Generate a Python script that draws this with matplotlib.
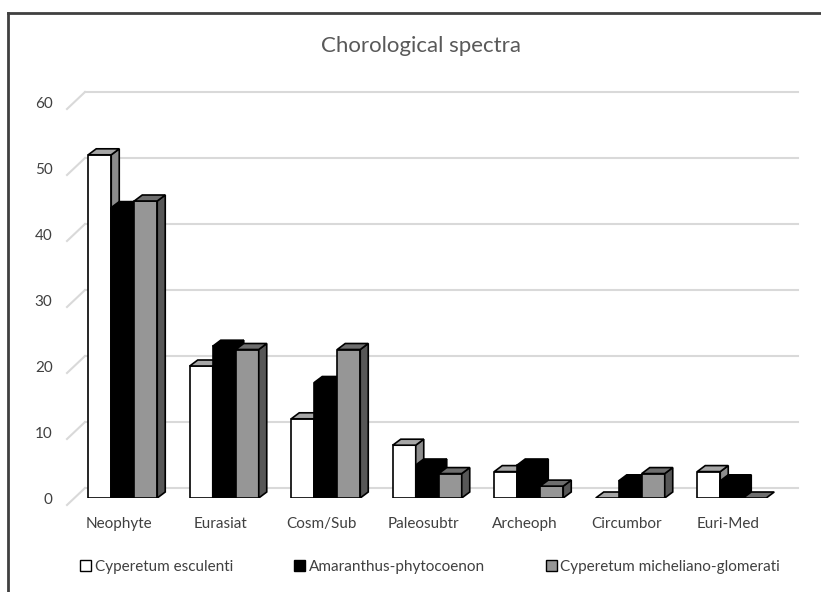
import numpy as np
import matplotlib
matplotlib.use("Agg")
import matplotlib.pyplot as plt
from matplotlib.patches import Polygon, Patch
from matplotlib.transforms import ScaledTranslation

# chart data
categories = ["Neophyte", "Eurasiat", "Cosm/Sub", "Paleosubtr", "Archeoph", "Circumbor", "Euri-Med"]
series_names = ["Cyperetum esculenti", "Amaranthus-phytocoenon", "Cyperetum micheliano-glomerati"]
esculenti = [52, 20, 12, 8, 4, 0, 4]
amaranthus = [44, 23, 17.5, 5, 5, 2.6, 2.6]
micheliano = [45, 22.5, 22.5, 3.7, 1.8, 3.7, 0]
y_ticks = [0, 10, 20, 30, 40, 50, 60]

series = [esculenti, amaranthus, micheliano]
# (front, top, side)
colors = [("#ffffff", "#a6a6a6", "#8c8c8c"),
          ("#000000", "#000000", "#000000"),
          ("#969696", "#6e6e6e", "#575757")]

plt.rcParams['font.family'] = ['Lato', 'DejaVu Sans']

W, H = 821, 592
fig = plt.figure(figsize=(W / 100, H / 100), dpi=100)

ax_left, ax_w = 72, 710.5
base_y, top_y = 498, 102
ax = fig.add_axes([ax_left / W, (H - base_y) / H, ax_w / W, (base_y - top_y) / H])
ax.set_xlim(-0.5, len(categories) - 0.5)
ax.set_ylim(0, 60)
for s in ax.spines.values():
    s.set_visible(False)

def px(dx, dy):
    return ScaledTranslation(dx / 100, dy / 100, fig.dpi_scale_trans)

# pixel -> data scale
o = ax.transData.transform((0, 0))
ux = ax.transData.transform((1, 0))[0] - o[0]
uy = ax.transData.transform((0, 1))[1] - o[1]
x_lo = ax.get_xlim()[0]

def at_px(xpix, v, dy=0):
    # x given in figure pixels, y as data value shifted dy pixels
    return x_lo + (xpix - ax_left) / ux, v + dy / uy

# back wall gridlines + left slant
for v in y_ticks:
    a, b = at_px(85, v, 10), at_px(798, v, 10)
    ax.plot([a[0], b[0]], [a[1], b[1]], color="#d9d9d9", lw=1.5, clip_on=False, zorder=0)
    c = at_px(67, v, -7)
    ax.plot([c[0], a[0]], [c[1], a[1]], color="#d9d9d9", lw=1.5, clip_on=False, zorder=0)

# 3d depth of bars
ddx, ddy = 8 / ux, 6 / uy
bw = 23 / ux
x = np.arange(len(categories))
z = 3
for i in range(len(categories)):
    for k, vals in enumerate(series):
        h = vals[i]
        x0 = x[i] - 1.5 * bw + k * bw
        front, topc, side = colors[k]
        if h > 0:
            ax.add_patch(plt.Rectangle((x0, 0), bw, h, facecolor=front,
                                       edgecolor="black", lw=1.2, zorder=z))
            ax.add_patch(Polygon([(x0 + bw, 0), (x0 + bw + ddx, ddy), (x0 + bw + ddx, h + ddy), (x0 + bw, h)],
                                 closed=True, facecolor=side, edgecolor="black", lw=1.2, zorder=z + 0.1))
        ax.add_patch(Polygon([(x0, h), (x0 + bw, h), (x0 + bw + ddx, h + ddy), (x0 + ddx, h + ddy)],
                             closed=True, facecolor=topc, edgecolor="black", lw=1.2, zorder=z + 0.2))
        z += 1

ax.set_xticks(x)
ax.set_xticklabels(categories)
ax.set_yticks(y_ticks)
ax.tick_params(axis='x', length=0, pad=14, labelsize=11, labelcolor="#404040")
ax.tick_params(axis='y', length=0, pad=14, labelsize=11, labelcolor="#404040")
for lab in ax.get_xticklabels():
    lab.set_transform(lab.get_transform() + px(-4, 0))

fig.text(421 / W, 1 - 46 / H, "Chorological spectra", ha="center", va="center",
         fontsize=16, color="#595959")

handles = [Patch(facecolor=c[0], edgecolor="#000000", lw=1) for c in colors]
fig.legend(handles, series_names, loc="center", bbox_to_anchor=(0.524, 1 - 567 / H),
           ncol=3, frameon=False, fontsize=11, handlelength=0.7, handleheight=0.7,
           handletextpad=0.25, columnspacing=4.0, labelcolor="#404040")

# chart border (left and top edges)
fig.add_artist(plt.Line2D([8 / W, 8 / W], [0, 1 - 13 / H], color="#404040", lw=2))
fig.add_artist(plt.Line2D([8 / W, 1], [1 - 13 / H, 1 - 13 / H], color="#404040", lw=2))

fig.savefig("out.png", dpi=100)
